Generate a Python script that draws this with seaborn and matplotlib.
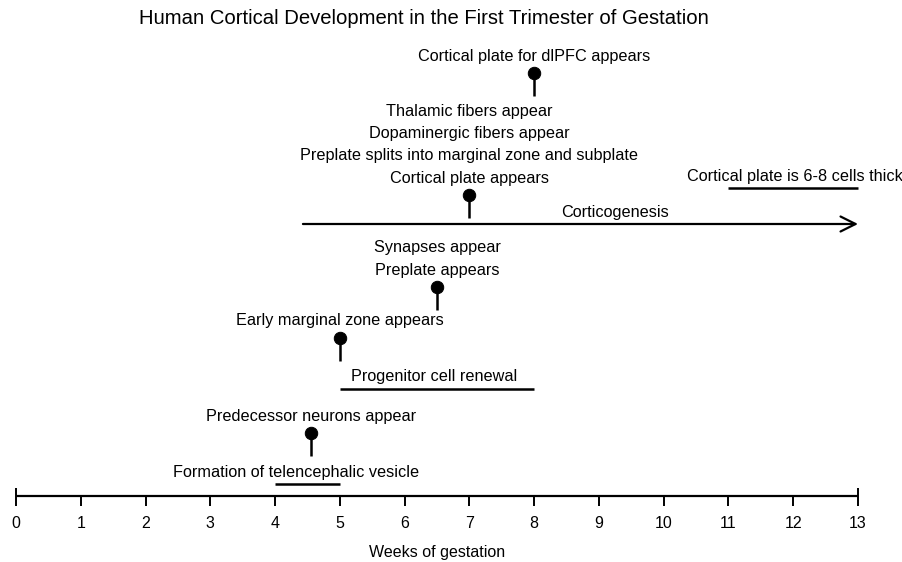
import seaborn as sns
import matplotlib.pyplot as plt
import pandas as pd

# milestones with a pin marker (week, label lines top to bottom)
pin_weeks = [4.55, 5.0, 6.5, 7.0, 8.0]
pin_labels = [
    ["Predecessor neurons appear"],
    ["Early marginal zone appears"],
    ["Synapses appear", "Preplate appears"],
    ["Thalamic fibers appear", "Dopaminergic fibers appear",
     "Preplate splits into marginal zone and subplate", "Cortical plate appears"],
    ["Cortical plate for dlPFC appears"],
]
pin_rows = [433, 338, 287, 195, 73]  # pixel row of the pin head

# periods drawn as a bar (start, end, label)
span_start = [4.0, 5.0, 11.0]
span_end = [5.0, 8.0, 13.0]
span_labels = ["Formation of telencephalic vesicle", "Progenitor cell renewal",
               "Cortical plate is 6-8 cells thick"]
span_text_x = [4.32, 6.45, 12.03]
span_rows = [484, 389, 188]

arrow_start, arrow_end = 4.43, 13.0
arrow_label = "Corticogenesis"

weeks = list(range(0, 14))

if __name__ == "__main__":
    sns.set_theme(style="white")
    plt.rcParams["font.family"] = ["Liberation Sans", "DejaVu Sans"]
    plt.rcParams["text.color"] = "black"

    fig = plt.figure(figsize=(9.02, 5.62), dpi=100)
    ax = fig.add_axes([0, 0, 1, 1])
    px = 64.77
    ax.set_xlim(-16 / px, (902 - 16) / px)
    ax.set_ylim(562, 0)
    ax.axis("off")
    fs = 11.7

    # timeline axis
    ax.hlines(496, 0, 13, color="black", lw=1.6)
    ax.vlines(weeks[1:-1], 496, 506, color="black", lw=1.4)
    ax.vlines([0, 13], 488, 506, color="black", lw=1.4)
    for w in weeks:
        ax.text(w, 524, str(w), ha="center", va="center", fontsize=11.5)
    ax.text(6.5, 552, "Weeks of gestation", ha="center", va="center", fontsize=11.5)
    ax.text(6.3, 18, "Human Cortical Development in the First Trimester of Gestation",
            ha="center", va="center", fontsize=14.6)

    # spans
    for s, e, lab, tx, r in zip(span_start, span_end, span_labels, span_text_x, span_rows):
        ax.hlines(r, s, e, color="black", lw=1.8)
        ax.text(tx, r - 12, lab, ha="center", va="center", fontsize=fs)

    # corticogenesis arrow
    ax.annotate("", xy=(arrow_end, 224), xytext=(arrow_start, 224),
                arrowprops=dict(arrowstyle="->,head_length=0.9,head_width=0.45",
                                color="black", lw=1.6, shrinkA=0, shrinkB=0))
    ax.text(9.25, 212, arrow_label, ha="center", va="center", fontsize=fs)

    # pins
    df = pd.DataFrame({"week": pin_weeks, "row": pin_rows})
    ax.vlines(df["week"], df["row"], df["row"] + 23, color="black", lw=1.8)
    sns.scatterplot(data=df, x="week", y="row", ax=ax, color="black", s=80,
                    edgecolor="black", zorder=3, legend=False)
    for w, r, lines in zip(pin_weeks, pin_rows, pin_labels):
        for i, line in enumerate(reversed(lines)):
            ax.text(w, r - 17 - 22.3 * i, line, ha="center", va="center", fontsize=fs)

    fig.savefig("out.png", dpi=100)
